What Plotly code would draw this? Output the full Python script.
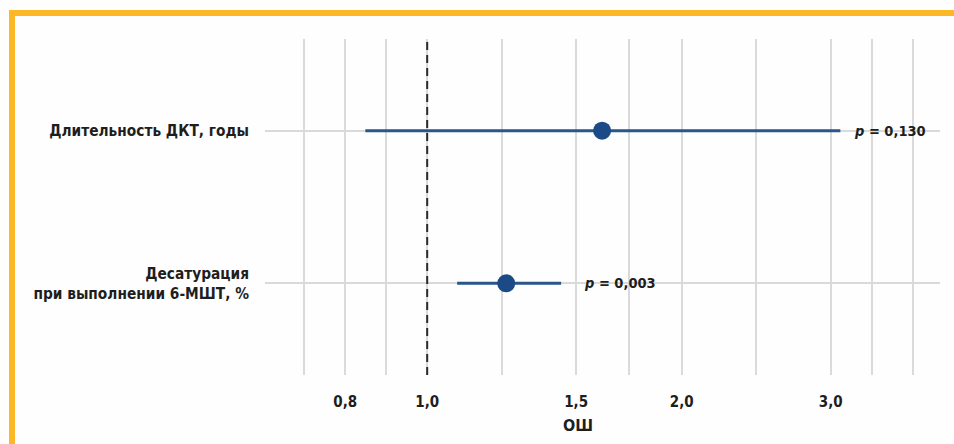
import math
import plotly.graph_objects as go

# Forest plot: odds ratios (ОШ) with 95% CI
factors = ["Длительность ДКТ, годы", "Десатурация<br>при выполнении 6-МШТ, %"]
odds_ratio = [1.61, 1.24]
ci_low = [0.845, 1.085]
ci_high = [3.08, 1.44]
p_values = ["0,130", "0,003"]

tick_values = [0.8, 1.0, 1.5, 2.0, 3.0]
tick_labels = ["0,8", "1,0", "1,5", "2,0", "3,0"]
minor_grid = [0.7155, 0.894, 1.2247, 1.732, 2.449, 3.354, 3.75]

W, H = 954, 444
ML, MR, MT, MB = 265, 14, 39, 69
FONT = "Liberation Sans Narrow, Arial Narrow, DejaVu Sans Condensed, sans-serif"
TEXT = "#1e1e1e"
BLUE_LINE = "#2a5689"
BLUE_DOT = "#1b4a86"
GRID = "#dadada"
ORANGE = "#fdb827"

rows = list(range(len(factors)))[::-1]  # first factor on top


def px_x(px):
    return (px - ML) / (W - ML - MR)


def px_y(py):
    return (H - MB - py) / (H - MT - MB)


fig = go.Figure()

# confidence intervals
for y, lo, hi in zip(rows, ci_low, ci_high):
    fig.add_trace(go.Scatter(x=[lo, hi], y=[y, y], mode="lines",
                             line=dict(color=BLUE_LINE, width=3),
                             hoverinfo="skip", showlegend=False))

# reference line at OR = 1
fig.add_trace(go.Scatter(x=[1, 1], y=[-0.6, 1.6], mode="lines",
                         line=dict(color="#2b2b2b", width=2, dash="8px,5px"),
                         hoverinfo="skip", showlegend=False))

# point estimates
fig.add_trace(go.Scatter(x=odds_ratio, y=rows, mode="markers",
                         marker=dict(color=BLUE_DOT, size=18),
                         showlegend=False))

p_shift = [12, 21]
for y, hi, p, sh in zip(rows, ci_high, p_values, p_shift):
    fig.add_annotation(x=math.log10(hi), y=y, xref="x", yref="y",
                       text=f"<b><i>p</i> = {p}</b>", showarrow=False,
                       xanchor="left", yanchor="middle", xshift=sh,
                       font=dict(family=FONT, size=14.5, color=TEXT))

fig.add_annotation(x=px_x(578), y=px_y(425), xref="paper", yref="paper",
                   text="<b>ОШ</b>", showarrow=False,
                   xanchor="center", yanchor="middle",
                   font=dict(family=FONT, size=16, color=TEXT))

# orange frame (top and left edges)
fig.add_shape(type="rect", xref="paper", yref="paper",
              x0=px_x(9), x1=px_x(W), y0=px_y(16), y1=px_y(10),
              fillcolor=ORANGE, line=dict(width=0), layer="above")
fig.add_shape(type="rect", xref="paper", yref="paper",
              x0=px_x(9), x1=px_x(15), y0=px_y(H), y1=px_y(10),
              fillcolor=ORANGE, line=dict(width=0), layer="above")

fig.update_layout(
    width=W, height=H,
    margin=dict(l=ML, r=MR, t=MT, b=MB),
    paper_bgcolor="#fefefe", plot_bgcolor="#fefefe",
    font=dict(family=FONT, size=15, color=TEXT),
    xaxis=dict(
        type="log",
        range=[math.log10(0.643), math.log10(4.04)],
        tickvals=tick_values, ticktext=[f"<b>{t}</b>" for t in tick_labels],
        showgrid=True, gridcolor=GRID, gridwidth=1.5,
        minor=dict(tickvals=minor_grid, showgrid=True, gridcolor=GRID, gridwidth=1.5),
        zeroline=False, showline=False, ticks="",
        ticklabelstandoff=16,
        tickfont=dict(family=FONT, size=15, color=TEXT),
    ),
    yaxis=dict(
        range=[-0.6, 1.6],
        tickvals=rows, ticktext=[f"<b>{f}</b>" for f in factors],
        showgrid=True, gridcolor=GRID, gridwidth=1.5,
        zeroline=False, showline=False, ticks="",
        ticklabelstandoff=15,
        tickfont=dict(family=FONT, size=15.3, color=TEXT),
    ),
)

fig.write_html("out.html")
